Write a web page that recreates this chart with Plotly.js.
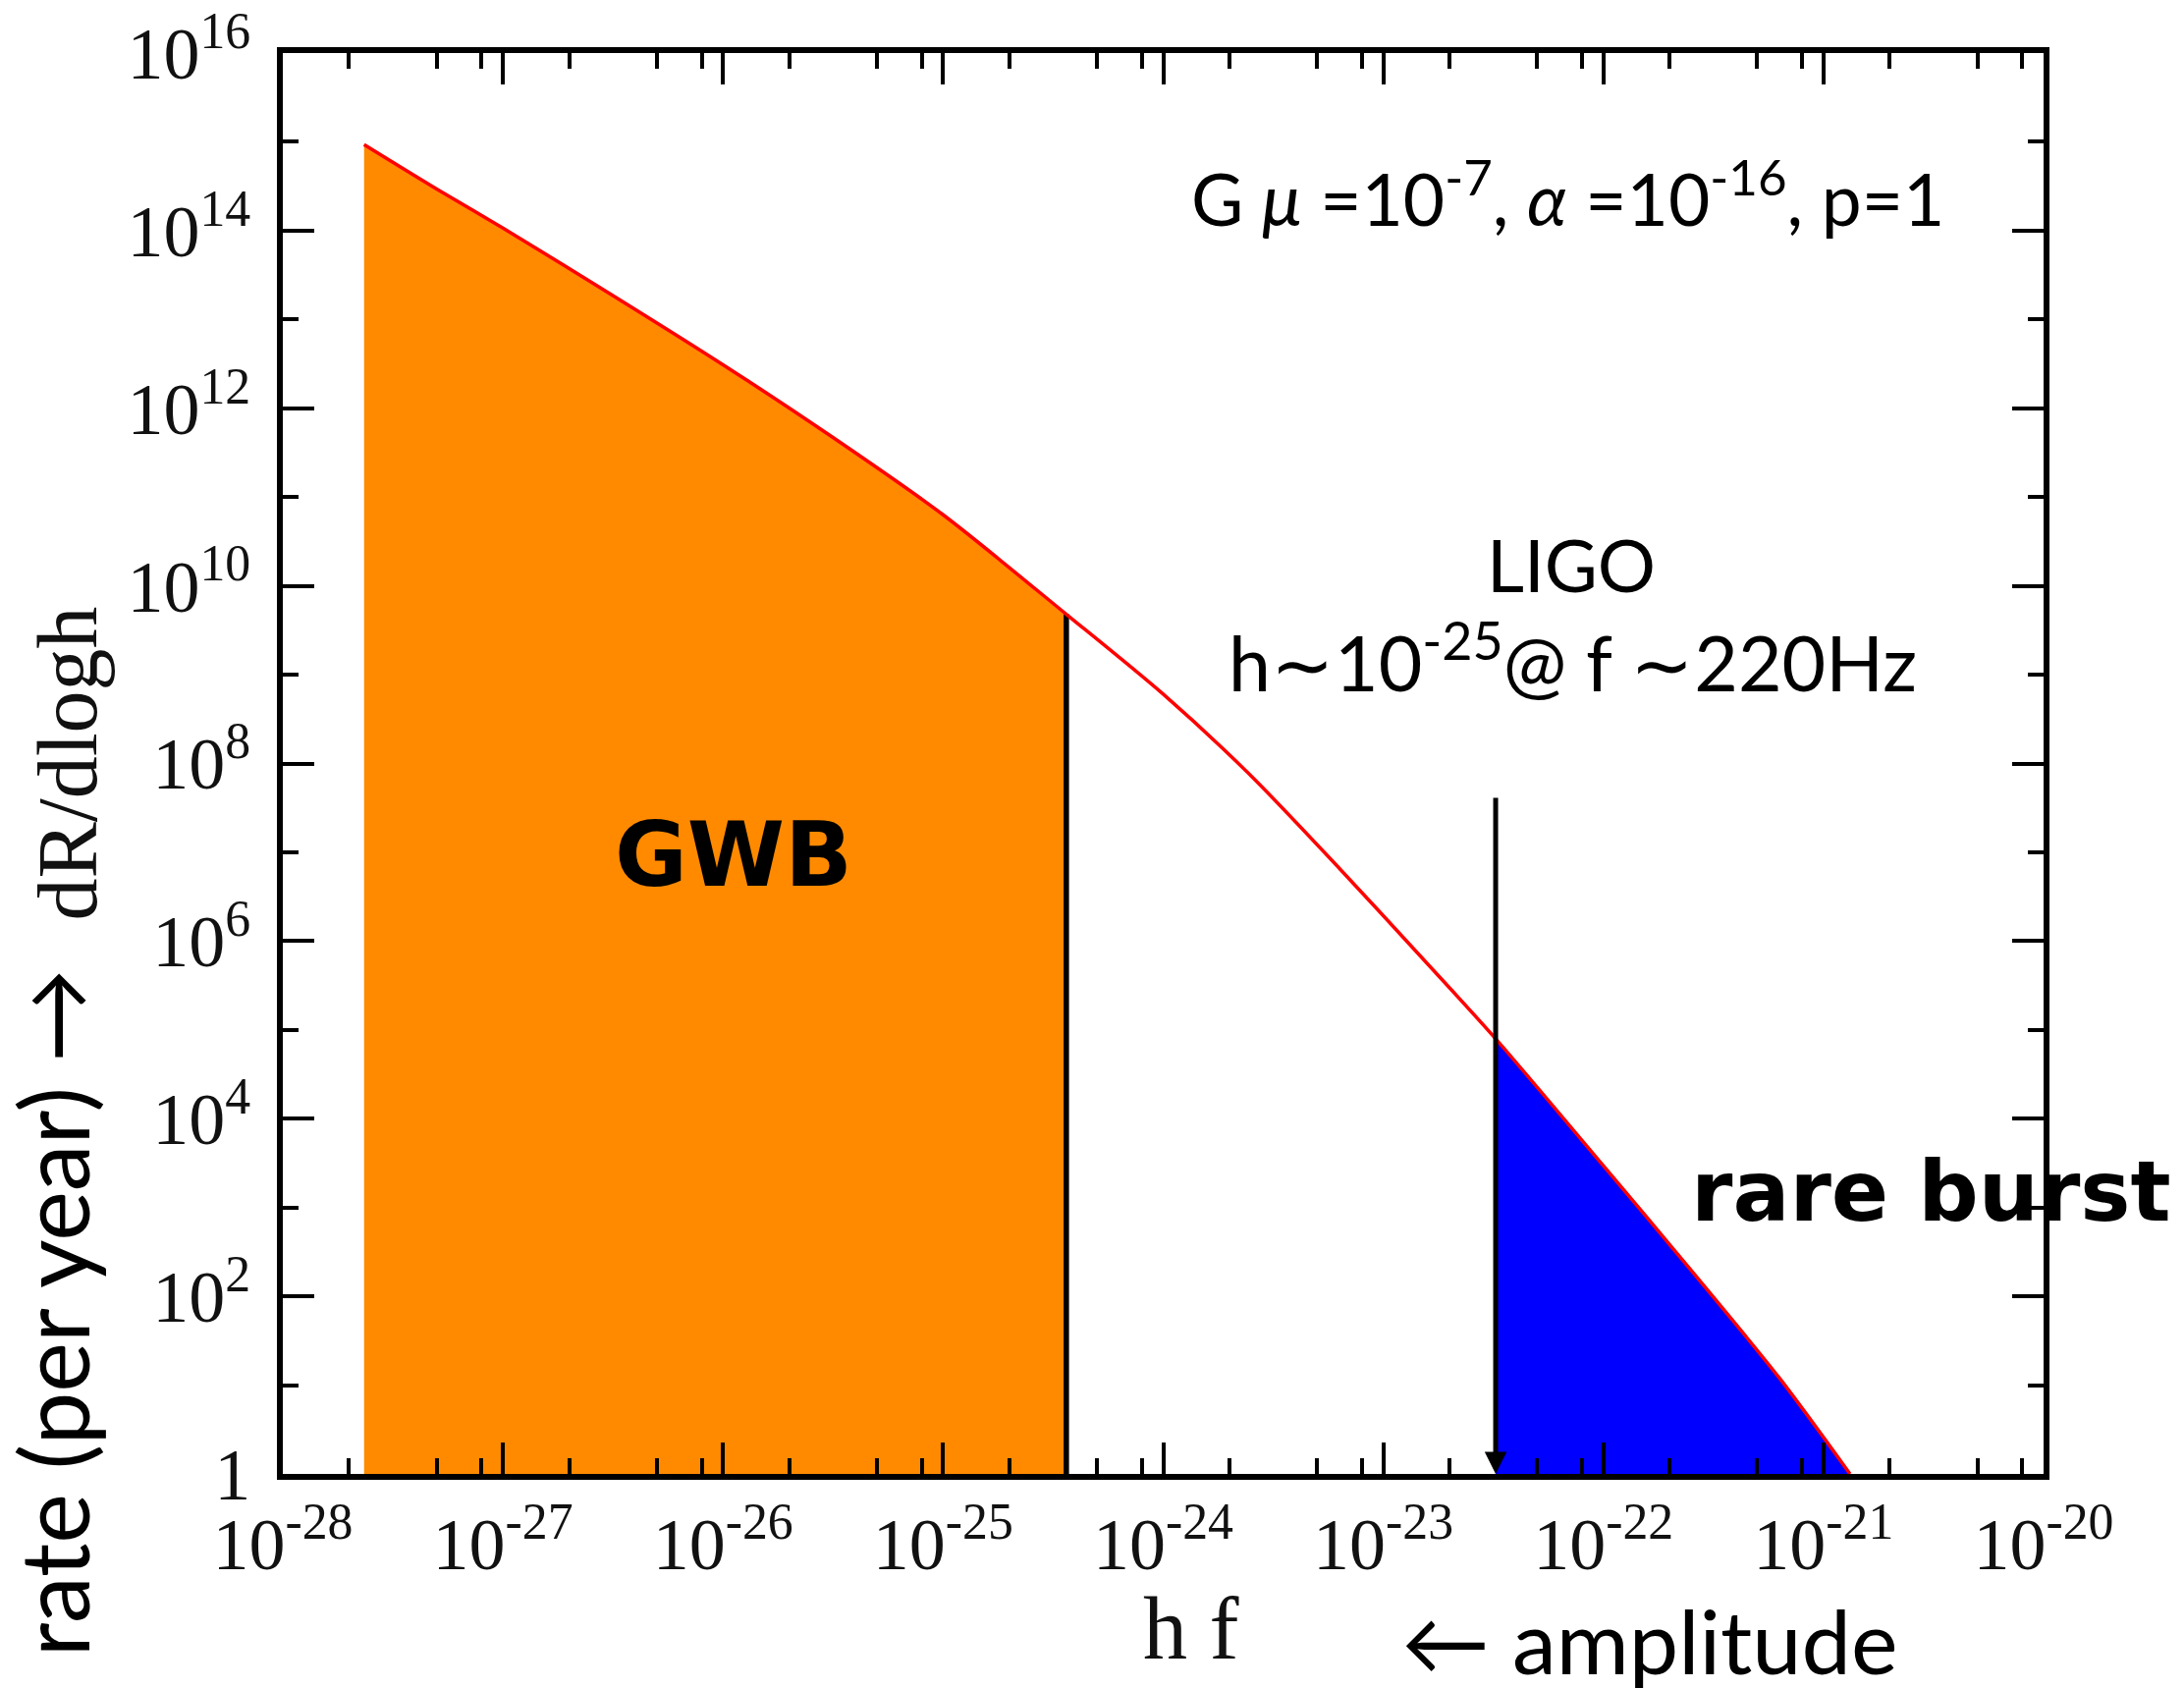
<!DOCTYPE html>
<html>
<head>
<meta charset="utf-8">
<script src="https://cdn.plot.ly/plotly-3.0.1.min.js"></script>
<style>html,body{margin:0;padding:0;background:#fff;}#chart{width:2224px;height:1719px;}</style>
</head>
<body>
<div id="chart"></div>
<script>
// Curve: amplitude h·f and rate dR/dlogh
const amplitude = [2.34e-28, 5.0e-28, 1e-27, 3.16e-27, 1e-26, 3.16e-26, 1e-25, 3.63e-25, 1e-24, 2.51e-24, 6.31e-24, 1.58e-23, 3.24e-23, 1e-22, 2.51e-22, 6.31e-22, 1.32e-21];
const rate = [9.33e14, 2.95e14, 1.07e14, 1.86e13, 3.09e12, 4.68e11, 6.31e10, 4.79e9, 6.03e8, 7.24e7, 6.61e6, 5.62e5, 7.94e4, 2.95e3, 195, 12.0, 1];

const gwbLimit = 3.63e-25;      // end of the GWB region
const ligoAmplitude = 3.24e-23; // LIGO sensitivity arrow
const ligoArrowTop = 4.27e7;
const rateFloor = 1;

const xTickVals = [1e-28, 1e-27, 1e-26, 1e-25, 1e-24, 1e-23, 1e-22, 1e-21, 1e-20];
const xTickText = ['10<sup>-28</sup>', '10<sup>-27</sup>', '10<sup>-26</sup>', '10<sup>-25</sup>', '10<sup>-24</sup>', '10<sup>-23</sup>', '10<sup>-22</sup>', '10<sup>-21</sup>', '10<sup>-20</sup>'];
const yTickVals = [1, 1e2, 1e4, 1e6, 1e8, 1e10, 1e12, 1e14, 1e16];
const yTickText = ['1', '10<sup>2</sup>', '10<sup>4</sup>', '10<sup>6</sup>', '10<sup>8</sup>', '10<sup>10</sup>', '10<sup>12</sup>', '10<sup>14</sup>', '10<sup>16</sup>'];
const xMinorMantissa = [2, 5, 8];
const yMinorVals = [10, 1e3, 1e5, 1e7, 1e9, 1e11, 1e13, 1e15];

// minor tick list for x from decades and mantissas
const xMinorVals = [];
for (let i = 0; i < xTickVals.length - 1; i++) {
  xMinorMantissa.forEach(m => xMinorVals.push(m * xTickVals[i]));
}

// region subsets
const gwbX = [], gwbY = [], burstX = [], burstY = [];
amplitude.forEach((h, i) => {
  if (h <= gwbLimit) { gwbX.push(h); gwbY.push(rate[i]); }
  if (h >= ligoAmplitude) { burstX.push(h); burstY.push(rate[i]); }
});
const gwbTop = gwbY[gwbY.length - 1];

const traces = [
  { x: gwbX.concat([gwbX[gwbX.length - 1], gwbX[0]]),
    y: gwbY.concat([rateFloor, rateFloor]),
    type: 'scatter', mode: 'lines', fill: 'toself', fillcolor: '#ff8a00',
    line: { width: 0, color: '#ff8a00' }, hoverinfo: 'skip', showlegend: false },
  { x: burstX.concat([burstX[burstX.length - 1], burstX[0]]),
    y: burstY.concat([rateFloor, rateFloor]),
    type: 'scatter', mode: 'lines', fill: 'toself', fillcolor: '#0000ff',
    line: { width: 0, color: '#0000ff' }, hoverinfo: 'skip', showlegend: false },
  { x: [gwbLimit, gwbLimit], y: [rateFloor, gwbTop], type: 'scatter', mode: 'lines',
    line: { color: '#000', width: 5.5 }, showlegend: false },
  { x: amplitude, y: rate, type: 'scatter', mode: 'lines',
    line: { color: '#ff0000', width: 3.5, shape: 'spline', smoothing: 0.8 }, showlegend: false }
];

const serif = 'Liberation Serif, Times New Roman, serif';
const sans = 'Lato, Noto Sans, sans-serif';

const axisCommon = {
  type: 'log', showgrid: false, zeroline: false,
  showline: true, linecolor: '#000', linewidth: 6, mirror: 'ticks',
  ticks: 'inside', ticklen: 32, tickwidth: 4, tickcolor: '#000',
  tickmode: 'array',
  tickfont: { family: serif, size: 74, color: '#111' }
};

const layout = {
  width: 2224, height: 1719,
  margin: { l: 288, r: 143, t: 54, b: 218, pad: 0 },
  paper_bgcolor: '#fff', plot_bgcolor: '#fff',
  showlegend: false,
  xaxis: Object.assign({}, axisCommon, {
    range: [-28, -20], tickvals: xTickVals, ticktext: xTickText,
    ticklabelstandoff: 2,
    minor: { tickmode: 'array', tickvals: xMinorVals, ticks: 'inside', ticklen: 16, tickwidth: 4, tickcolor: '#000', showgrid: false }
  }),
  yaxis: Object.assign({}, axisCommon, {
    range: [0, 16], tickvals: yTickVals, ticktext: yTickText,
    ticklabelstandoff: 12,
    title: { text: 'dR/dlogh', font: { family: serif, size: 86, color: '#111' }, standoff: 4 },
    minor: { tickmode: 'array', tickvals: yMinorVals, ticks: 'inside', ticklen: 16, tickwidth: 4, tickcolor: '#000', showgrid: false }
  }),
  annotations: [
    { x: Math.log10(ligoAmplitude), y: Math.log10(rateFloor), ax: Math.log10(ligoAmplitude), ay: Math.log10(ligoArrowTop),
      xref: 'x', yref: 'y', axref: 'x', ayref: 'y', text: '', showarrow: true,
      arrowhead: 2, arrowsize: 0.9, arrowwidth: 5, arrowcolor: '#000' },
    { xref: 'paper', yref: 'paper', x: 0.256, y: 0.436, text: '<b>GWB</b>', showarrow: false,
      font: { family: 'DejaVu Sans', size: 90, color: '#000' }, xanchor: 'center', yanchor: 'middle' },
    { xref: 'paper', yref: 'paper', x: 0.7987, y: 0.199, text: '<b>rare burst</b>', showarrow: false,
      font: { family: 'DejaVu Sans', size: 86, color: '#000' }, xanchor: 'left', yanchor: 'middle' },
    { xref: 'paper', yref: 'paper', x: 0.515, y: 0.901, showarrow: false,
      text: 'G <i>μ</i> =10<sup>-7</sup>, <i>α</i> =10<sup>-16</sup>, p=1',
      font: { family: sans, size: 73, color: '#000' }, xanchor: 'left', yanchor: 'middle' },
    { xref: 'paper', yref: 'paper', x: 0.7317, y: 0.6406, text: 'LIGO', showarrow: false,
      font: { family: sans, size: 74, color: '#000' }, xanchor: 'center', yanchor: 'middle' },
    { xref: 'paper', yref: 'paper', x: 0.7323, y: 0.5743, text: 'h∼10<sup>-25</sup>@ f ∼220Hz', showarrow: false,
      font: { family: sans, size: 77, color: '#000' }, xanchor: 'center', yanchor: 'middle' },
    { xref: 'paper', yref: 'paper', x: 0.516, y: -0.109, text: 'h f', showarrow: false,
      font: { family: serif, size: 90, color: '#111' }, xanchor: 'center', yanchor: 'middle' },
    { xref: 'paper', yref: 'paper', x: 0.634, y: -0.117, text: '← amplitude', showarrow: false,
      font: { family: sans, size: 90, color: '#000' }, xanchor: 'left', yanchor: 'middle' },
    { xref: 'paper', yref: 'paper', x: -0.131, y: 0.1133, text: 'rate (per year) →', showarrow: false, textangle: -90,
      font: { family: sans, size: 96, color: '#000' }, xanchor: 'center', yanchor: 'middle' }
  ]
};

Plotly.newPlot('chart', traces, layout, { displayModeBar: false, staticPlot: true });
</script>
</body>
</html>
